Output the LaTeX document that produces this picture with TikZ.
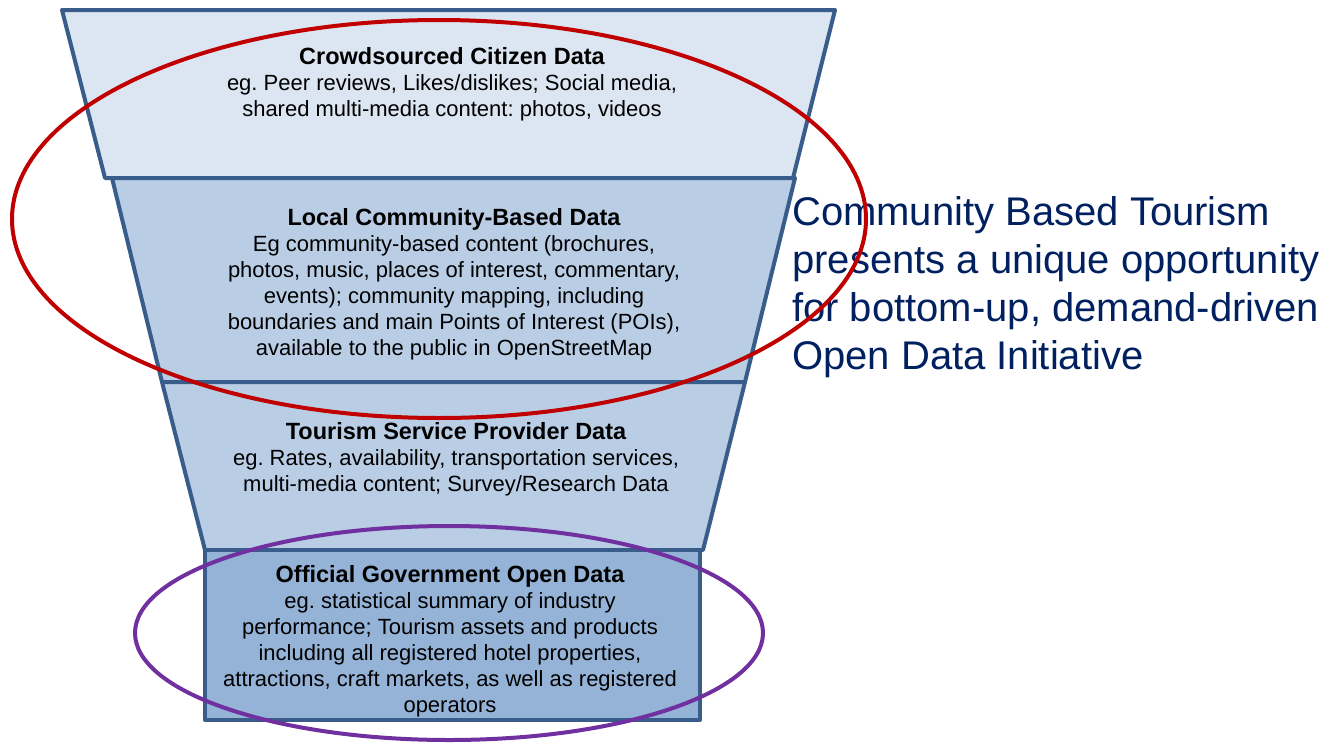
\documentclass[tikz,border=0pt]{standalone}
\usepackage{fontspec}
\setmainfont{Liberation Sans}
\frenchspacing
\definecolor{funnelline}{RGB}{56,93,138}
\definecolor{toplayer}{RGB}{220,230,242}
\definecolor{midlayer}{RGB}{185,205,229}
\definecolor{baselayer}{RGB}{149,179,215}
\definecolor{ringred}{RGB}{192,0,0}
\definecolor{ringpurple}{RGB}{112,48,160}
\definecolor{navy}{RGB}{0,32,96}
\newcommand{\layertitle}[1]{{\fontsize{23.5}{26}\selectfont\bfseries #1}}
\tikzset{
  layer/.style={draw=funnelline, line width=4pt, line join=round},
  layertext/.style={align=center, inner sep=0, font=\fontsize{22}{26}\selectfont},
  ring/.style={line width=4pt}
}

\begin{document}
\begin{tikzpicture}[x=1pt, y=-1pt]
\useasboundingbox (0,0) rectangle (1323,742);
% funnel, top to bottom
\draw[layer, fill=toplayer] (62,10) -- (835,10) -- (793,178) -- (105,178) -- cycle;
\draw[layer, fill=midlayer] (112,178) -- (795,178) -- (745,382) -- (162,382) -- cycle;
\draw[layer, fill=midlayer] (162,382) -- (745,382) -- (703,550) -- (205,550) -- cycle;
\draw[layer, fill=baselayer] (205,550) rectangle (700,720);

\node[layertext] (crowd) at (452,84) {\layertitle{Crowdsourced Citizen Data}\\
  eg. Peer reviews, Likes/dislikes; Social media,\\
  shared multi-media content: photos, videos};
\node[layertext] (local) at (454,284) {\layertitle{Local Community-Based Data}\\
  Eg community-based content (brochures,\\
  photos, music, places of interest, commentary,\\
  events); community mapping, including\\
  boundaries and main Points of Interest (POIs),\\
  available to the public in OpenStreetMap};
\node[layertext] (provider) at (456,459) {\layertitle{Tourism Service Provider Data}\\
  eg. Rates, availability, transportation services,\\
  multi-media content; Survey/Research Data};
\node[layertext] (official) at (450,641) {\layertitle{Official Government Open Data}\\
  eg. statistical summary of industry\\
  performance; Tourism assets and products\\
  including all registered hotel properties,\\
  attractions, craft markets, as well as registered\\
  operators};

\node[anchor=west, align=left, inner sep=0, text=navy,
  font=\fontsize{40}{48}\selectfont] (cbt) at (792,287)
  {Community Based Tourism\\ presents a unique opportunity\\
   for bottom-up, demand-driven\\ Open Data Initiative};

% rings round the layers
\draw[ring, ringred] (439,219) ellipse [x radius=427, y radius=199];
\draw[ring, ringpurple] (449,633) ellipse [x radius=314, y radius=107];
\end{tikzpicture}
\end{document}
